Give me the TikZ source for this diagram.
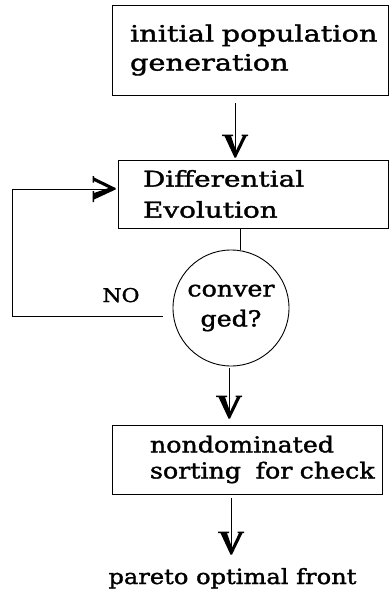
\documentclass[tikz,border=0pt]{standalone}
\usepackage{fontspec}
\setmainfont[FakeStretch=1.28,FakeBold=1.6]{DejaVu Serif}
\newfontfamily\narrowserif[FakeStretch=1.15,FakeBold=1.6]{DejaVu Serif}
\begin{document}
\begin{tikzpicture}[x=1pt,y=-1pt,line width=0.9pt,
  txt/.style={font=\fontsize{22.5}{29}\selectfont},
  box/.style={draw,rectangle,inner xsep=4pt,inner ysep=0pt,align=left,txt},
  vtip/.pic={\fill[black,draw=none] (-13,-22) -- (-2,-22) -- (-2,-20.5) -- (-4,-20.5) -- (1,-6) -- (8,-20.5) -- (6.5,-20.5) -- (6.5,-22) -- (13,-22) -- (13,-20.5) -- (11.5,-20.5) -- (1,1) -- (-0.5,1) -- (-10.5,-20.5) -- (-13,-20.5) -- cycle;}
]
\useasboundingbox (0,0) rectangle (390,597);
\node[box,minimum width=276pt,minimum height=90pt,text width=268pt] (init) at (250,50)
  {\hspace*{14pt}\mbox{initial population}\\\hspace*{14pt}\mbox{generation}};
\node[box,minimum width=270pt,minimum height=68pt,text width=262pt,font=\fontsize{21.8}{31}\selectfont] (de) at (253,194)
  {\hspace*{21pt}\mbox{Differential}\\\hspace*{21pt}\mbox{Evolution}};
\node[draw,circle,minimum size=116pt,inner sep=0pt,align=center,font=\narrowserif\fontsize{22}{30}\selectfont] (conv) at (231,308) {conver\\ged?};
\node[anchor=base,font=\narrowserif\fontsize{19}{20}\selectfont] (no) at (121,302) {NO};
\node[box,minimum width=270pt,minimum height=69pt,text width=262pt,font=\narrowserif\fontsize{22}{26}\selectfont] (sort) at (247,459.5)
  {\hspace*{34pt}\mbox{nondominated}\\\hspace*{34pt}\mbox{sorting\ \ for check}};
\node[anchor=base,inner sep=0pt,font=\narrowserif\fontsize{21}{22}\selectfont] (pf) at (232.5,584) {pareto optimal front};

\draw ([shift={(-15,8)}]init.south) -- ([shift={(-18,-3)}]de.north) pic{vtip};
\draw ([xshift=-13pt]de.south) -- ([shift={(9,0.7)}]conv.north);
\draw ([shift={(-2,2)}]conv.south) -- ([shift={(-18,-7)}]sort.north) pic{vtip};
\draw ([shift={(-16,4)}]sort.south) -- ([shift={(-1.5,-14)}]pf.north) pic{vtip};
\coordinate (nostart) at ([shift={(-10,8)}]conv.west);
\coordinate (loopend) at ([shift={(-3,-5)}]de.west);
\coordinate (loopx) at (12,0);
\draw (nostart) -- (nostart -| loopx) |- (loopend) pic[rotate=90]{vtip};
\end{tikzpicture}
\end{document}
